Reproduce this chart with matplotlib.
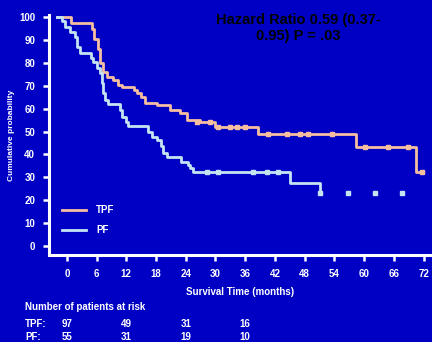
import matplotlib.pyplot as plt

# Kaplan-Meier step data (months, survival %)
tpf_t = [-2.0, 0.8, 5.0, 5.5, 6.2, 6.6, 7.2, 8.2, 9.3, 10.3, 11.1, 13.5, 14.1, 15.0,
         15.8, 18.2, 20.8, 22.8, 24.2, 26.9, 29.9, 38.6, 58.4, 70.5, 71.7]
tpf_s = [100, 97.4, 95.0, 90.5, 86.0, 80.0, 76.0, 74.0, 72.3, 70.3, 69.4, 68.2, 67.0, 65.0,
         62.4, 61.4, 59.4, 58.0, 55.0, 54.1, 52.0, 49.0, 43.2, 32.3, 32.3]
pf_t = [-2.0, -1.0, -0.4, 0.6, 1.6, 2.0, 2.6, 4.8, 5.3, 6.1, 6.7, 7.0, 7.3, 7.7, 8.3,
        10.7, 11.2, 11.9, 12.3, 16.3, 17.2, 18.2, 19.0, 19.4, 20.2, 23.1, 24.4, 24.8,
        25.5, 45.1, 51.1, 51.3]
pf_s = [100, 98.3, 95.6, 93.4, 91.3, 86.9, 84.3, 82.0, 80.3, 77.7, 75.5, 71.2, 66.8, 63.8,
        62.0, 59.4, 56.3, 54.1, 52.4, 49.8, 47.6, 46.3, 43.7, 40.6, 38.9, 36.7, 35.5, 34.1,
        32.3, 27.5, 23.1, 23.1]

# censor marks
tpf_cens_t = [26.3, 28.9, 30.5, 32.9, 34.3, 36.0, 40.6, 44.4, 47.1, 48.7, 53.5, 60.2, 64.8, 68.9, 71.7]
tpf_cens_s = [54.1, 54.1, 52.0, 52.0, 52.0, 52.0, 49.0, 49.0, 49.0, 49.0, 49.0, 43.2, 43.2, 43.2, 32.3]
pf_cens_t = [28.3, 30.5, 37.6, 40.4, 42.6, 51.1, 56.8, 62.2, 67.7]
pf_cens_s = [32.3, 32.3, 32.3, 32.3, 32.3, 23.1, 23.1, 23.1, 23.1]

x_ticks = [0, 6, 12, 18, 24, 30, 36, 42, 48, 54, 60, 66, 72]
y_ticks = [0, 10, 20, 30, 40, 50, 60, 70, 80, 90, 100]

risk_times = [0, 12, 24, 36]
risk_tpf = ['97', '49', '31', '16']
risk_pf = ['55', '31', '19', '10']

bg = '#0000c4'
tpf_color = '#f6bea0'
pf_color = '#c4e4f4'

plt.rcParams['font.family'] = ['Liberation Sans', 'DejaVu Sans']
plt.rcParams['font.weight'] = 'bold'

fig = plt.figure(figsize=(4.32, 3.42), dpi=100, facecolor=bg)
ax = fig.add_axes([49 / 432, 87 / 342, 1 - 49 / 432, (255 - 15) / 342])
ax.set_facecolor(bg)

ax.step(tpf_t, tpf_s, where='post', color=tpf_color, lw=2.0, label='TPF')
ax.step(pf_t, pf_s, where='post', color=pf_color, lw=2.0, label='PF')
ax.plot(tpf_cens_t, tpf_cens_s, ls='none', marker='s', ms=2.2, color=tpf_color)
ax.plot(pf_cens_t, pf_cens_s, ls='none', marker='s', ms=2.2, color=pf_color)

ax.set_xlim(-3.6, 73.7)
ax.set_ylim(-3.9, 100.9)
ax.set_xticks(x_ticks)
ax.set_yticks(y_ticks)
for s in ['top', 'right']:
    ax.spines[s].set_visible(False)
for s in ['left', 'bottom']:
    ax.spines[s].set_color('white')
    ax.spines[s].set_linewidth(2.2)
ax.tick_params(colors='white', width=1.8, length=4, labelsize=7, pad=6)
for lab in ax.get_xticklabels() + ax.get_yticklabels():
    lab.set_fontweight('bold')

ax.set_xlabel('Survival Time (months)', color='white', fontsize=7, fontweight='bold', labelpad=6)
ax.set_ylabel('Cumulative probability', color='white', fontsize=6, fontweight='bold', labelpad=3)

leg = ax.legend(loc='upper left', bbox_to_anchor=(62 / 432, 1 - 205 / 342),
                bbox_transform=fig.transFigure, frameon=False, fontsize=7,
                handlelength=2.5, handletextpad=1.0, labelspacing=1.05,
                borderpad=0, borderaxespad=0)
for txt in leg.get_texts():
    txt.set_color('white')
    txt.set_fontweight('bold')

fig.text(298 / 432, 1 - 28 / 342, 'Hazard Ratio 0.59 (0.37-\n0.95) P = .03',
         ha='center', va='center', fontsize=10.5, fontweight='bold', color='black',
         linespacing=1.15)

# number at risk table
fig.text(25 / 432, 1 - 307 / 342, 'Number of patients at risk', color='white',
         fontsize=7, fontweight='bold', va='center')
fig.text(25 / 432, 1 - 324 / 342, 'TPF:', color='white', fontsize=7, fontweight='bold', va='center')
fig.text(25 / 432, 1 - 337 / 342, 'PF:', color='white', fontsize=7, fontweight='bold', va='center')
for t, a, b in zip(risk_times, risk_tpf, risk_pf):
    xf = fig.transFigure.inverted().transform(ax.transData.transform((t, 0)))[0]
    fig.text(xf, 1 - 324 / 342, a, color='white', fontsize=7, fontweight='bold', ha='center', va='center')
    fig.text(xf, 1 - 337 / 342, b, color='white', fontsize=7, fontweight='bold', ha='center', va='center')

fig.savefig('out.png', dpi=100, facecolor=bg)
